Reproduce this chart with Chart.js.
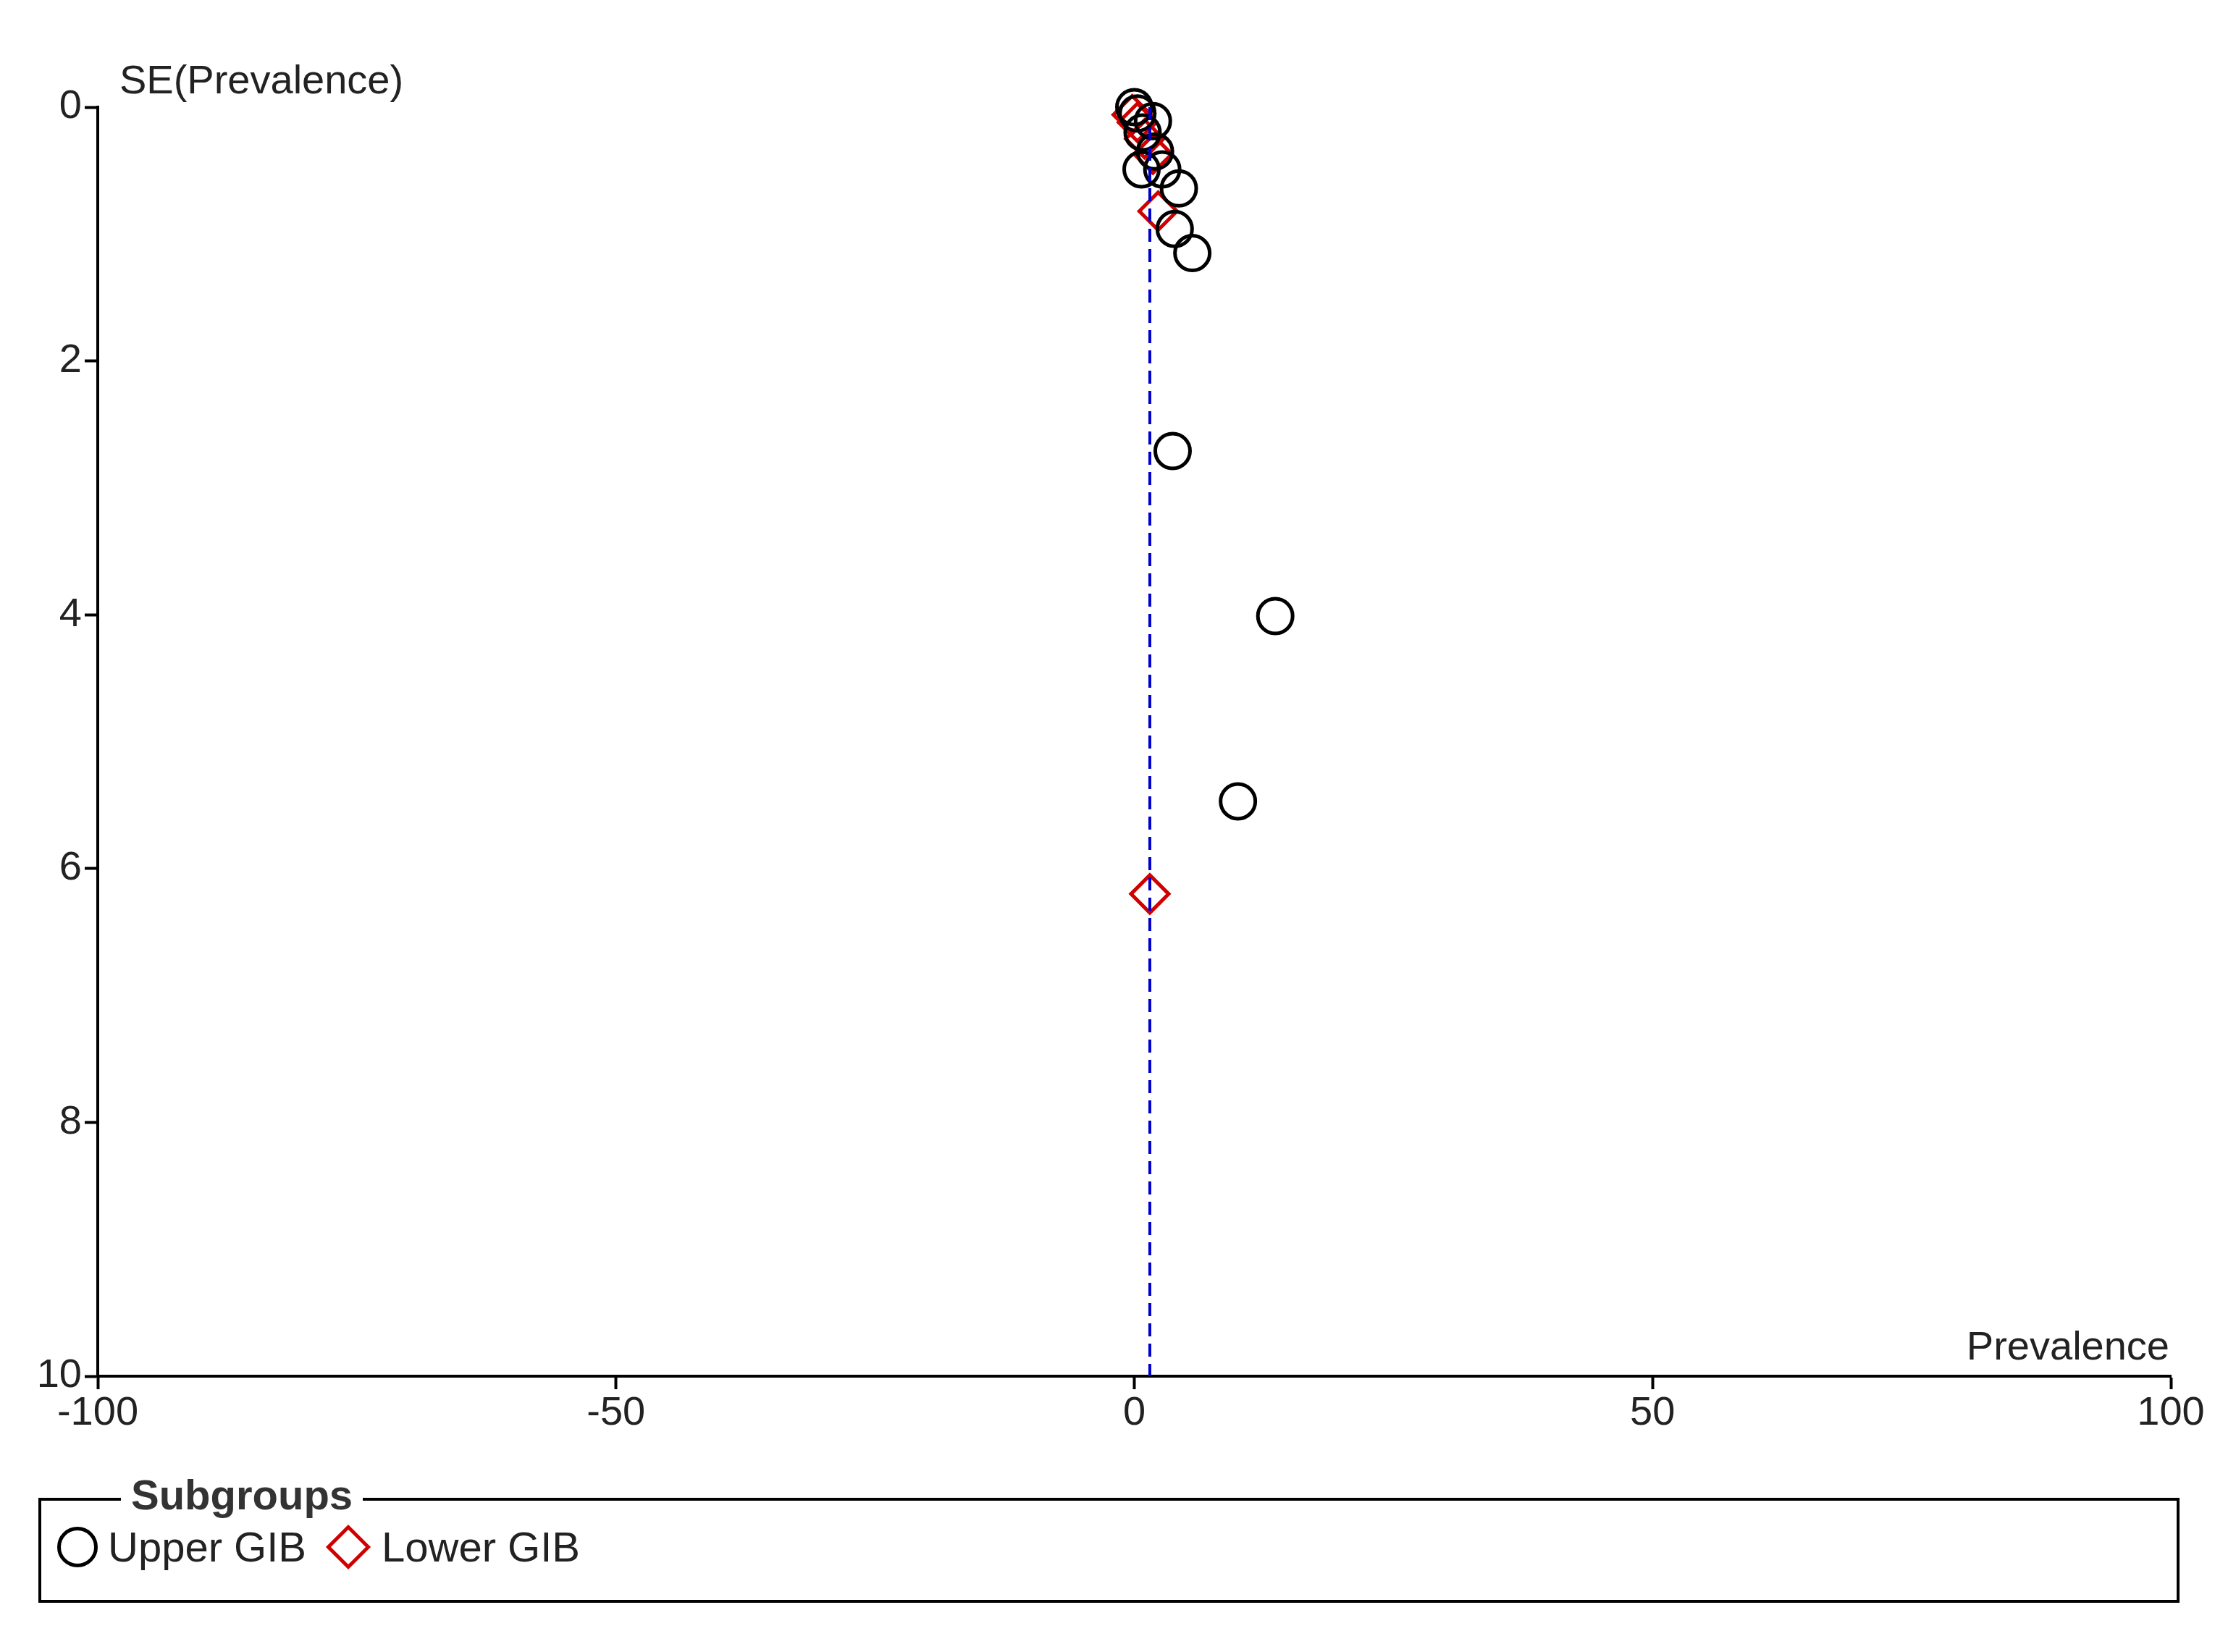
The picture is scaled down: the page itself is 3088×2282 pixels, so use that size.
<!DOCTYPE html>
<html>
<head>
<script src="https://cdn.jsdelivr.net/npm/chart.js@4"></script>
<style>
body{margin:0;background:#fff;width:3088px;height:2282px;position:relative;font-family:"Liberation Sans",Arial,sans-serif;}
#wrap{position:absolute;left:0;top:0;width:3088px;height:2000px;}
#legend{position:absolute;left:53px;top:2069px;width:2949px;height:137px;border:4px solid #000;}
#legend .title{position:absolute;left:110px;top:-42px;background:#fff;padding:0 14px;font-weight:bold;font-size:58px;color:#333;}
#legend .items{position:absolute;left:22px;top:30px;font-size:58px;color:#222;display:flex;align-items:center;}
.circ{display:inline-block;width:56px;height:56px;border:5px solid #000;border-radius:50%;box-sizing:border-box;margin-right:14px;}
.diam{display:inline-block;width:44px;height:44px;border:5px solid #d00000;transform:rotate(45deg);box-sizing:border-box;margin:0 24px 0 36px;}
</style>
</head>
<body>
<div id="wrap"><canvas id="funnel"></canvas></div>
<div id="legend"><span class="title">Subgroups</span>
<div class="items"><span class="circ"></span>Upper GIB<span class="diam"></span>Lower GIB</div></div>
<script>
var upperX = [0, 0.3, 0.8, 1.8, 2.0, 0.7, 2.7, 4.3, 3.9, 5.6, 3.7, 13.6, 10.0];
var upperY = [0, 0.05, 0.2, 0.11, 0.35, 0.49, 0.49, 0.64, 0.96, 1.15, 2.71, 4.01, 5.47];
var lowerX = [-0.2, 0.3, 1.0, 1.8, 2.3, 1.5];
var lowerY = [0.06, 0.12, 0.25, 0.37, 0.82, 6.2];
var pooled = 1.5;
var xTicks = [-100, -50, 0, 50, 100];
var yTicks = [0, 2, 4, 6, 8, 10];

function pts(xs, ys){ return xs.map(function(x, i){ return {x: x, y: ys[i]}; }); }

var titles = {
	id: 'titles',
	afterDraw: function(chart){
		var c = chart.ctx, a = chart.chartArea;
		c.save();
		c.font = '56px "Liberation Sans", Arial, sans-serif';
		c.fillStyle = '#222';
		c.textAlign = 'left'; c.textBaseline = 'bottom';
		c.fillText('SE(Prevalence)', a.left + 30, a.top - 6);
		c.textAlign = 'right';
		c.fillText('Prevalence', a.right - 2, a.bottom - 10);
		c.restore();
	}
};

var axisGrid = {display: true, drawOnChartArea: false, drawTicks: true, tickLength: 18, tickColor: '#000', tickWidth: 4};

new Chart('funnel', {
	type: 'scatter',
	data: {
		datasets: [{
			label: 'Pooled',
			type: 'line',
			data: [{x: pooled, y: 0}, {x: pooled, y: 10}],
			borderColor: '#0000cc',
			borderWidth: 4,
			borderDash: [18, 10],
			pointRadius: 0
		}, {
			label: 'Upper GIB',
			data: pts(upperX, upperY),
			pointStyle: 'circle',
			pointRadius: 24,
			borderColor: '#000',
			borderWidth: 5,
			backgroundColor: 'rgba(0,0,0,0)',
			clip: false
		}, {
			label: 'Lower GIB',
			data: pts(lowerX, lowerY),
			pointStyle: 'rectRot',
			pointRadius: 26,
			borderColor: '#d00000',
			borderWidth: 5,
			backgroundColor: 'rgba(0,0,0,0)',
			clip: false
		}]
	},
	options: {
		responsive: true,
		maintainAspectRatio: false,
		animation: false,
		layout: {padding: {top: 148, right: 90, left: 0, bottom: 0}},
		plugins: {legend: {display: false}, tooltip: {enabled: false}},
		scales: {
			x: {
				min: -100, max: 100,
				afterFit: function(s){ s.height = 99; },
				afterBuildTicks: function(s){ s.ticks = xTicks.map(function(v){ return {value: v}; }); },
				grid: axisGrid,
				border: {color: '#000', width: 4},
				ticks: {color: '#222', font: {size: 56, family: '"Liberation Sans", Arial'}, padding: 0, maxRotation: 0}
			},
			y: {
				reverse: true,
				min: 0, max: 10,
				afterFit: function(s){ s.width = 135; },
				afterBuildTicks: function(s){ s.ticks = yTicks.map(function(v){ return {value: v}; }); },
				grid: axisGrid,
				border: {color: '#000', width: 4},
				ticks: {color: '#222', font: {size: 56, family: '"Liberation Sans", Arial'}, padding: 4}
			}
		}
	},
	plugins: [titles]
});
</script>
</body>
</html>
